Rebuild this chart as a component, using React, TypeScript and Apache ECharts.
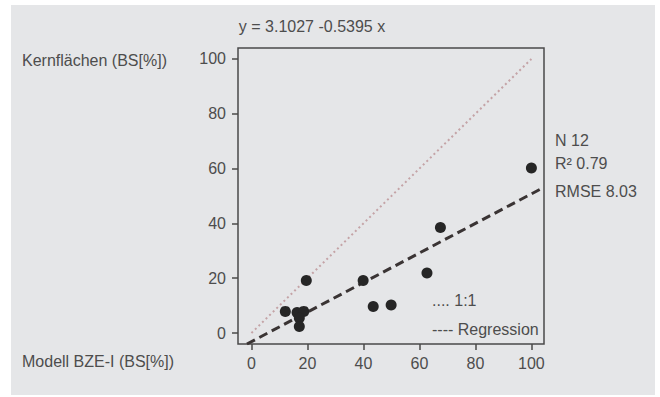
import React, { useEffect, useRef } from "react";
import * as echarts from "echarts";

const xTicks = [0, 20, 40, 60, 80, 100];
const yTicks = [0, 20, 40, 60, 80, 100];
const points: [number, number][] = [
  [12.1, 7.9],
  [16.3, 7.5],
  [18.7, 7.9],
  [17.1, 5.5],
  [17.1, 2.4],
  [19.6, 19.2],
  [39.9, 19.2],
  [43.5, 9.7],
  [49.9, 10.2],
  [62.7, 21.9],
  [67.5, 38.5],
  [100, 60.2],
];
const oneToOneLine: [number, number][] = [
  [0, 0],
  [100, 100],
];
const regressionLine: [number, number][] = [
  [-1.6, -4],
  [104.5, 53.2],
];
const titleText = "y = 3.1027 -0.5395 x";
const yAxisTitle = "Kernflächen (BS[%])";
const xAxisTitle = "Modell BZE-I (BS[%])";
const statsLines = ["N 12", "R² 0.79", "RMSE 8.03"];
const legendDotted = ".... 1:1";
const legendDashed = "---- Regression";

const FONT = "'Liberation Sans', Arial, Helvetica, sans-serif";
const TXT = "#4d4d4d";

export default function App() {
  const ref = useRef<HTMLDivElement>(null);
  useEffect(() => {
    if (!ref.current) return;
    const chart = echarts.init(ref.current, undefined, { renderer: "svg" });
    const textStyle = (text: string) => ({
      text,
      fill: TXT,
      font: `16px ${FONT}`,
    });
    chart.setOption({
      animation: false,
      backgroundColor: "#ffffff",
      textStyle: { fontFamily: FONT },
      graphic: [
        {
          type: "rect",
          z: -10,
          shape: { x: 11, y: 5, width: 644, height: 390 },
          style: { fill: "#e5e6e8" },
          silent: true,
        },
        {
          type: "text",
          x: 312,
          y: 26,
          style: { ...textStyle(titleText), align: "center", verticalAlign: "middle" },
        },
        {
          type: "text",
          x: 22,
          y: 60,
          style: { ...textStyle(yAxisTitle), verticalAlign: "middle" },
        },
        {
          type: "text",
          x: 22,
          y: 361,
          style: { ...textStyle(xAxisTitle), verticalAlign: "middle" },
        },
        {
          type: "text",
          x: 555,
          y: 140,
          style: { ...textStyle(statsLines[0]), verticalAlign: "middle" },
        },
        {
          type: "text",
          x: 555,
          y: 163,
          style: { ...textStyle(statsLines[1]), verticalAlign: "middle" },
        },
        {
          type: "text",
          x: 555,
          y: 191,
          style: { ...textStyle(statsLines[2]), verticalAlign: "middle" },
        },
        {
          type: "text",
          x: 432,
          y: 300,
          z: 20,
          style: { ...textStyle(legendDotted), verticalAlign: "middle" },
        },
        {
          type: "text",
          x: 432,
          y: 329,
          z: 20,
          style: { ...textStyle(legendDashed), verticalAlign: "middle" },
        },
      ],
      grid: {
        left: 238,
        right: 116,
        top: 48,
        bottom: 53,
        show: true,
        borderColor: "#4a4a4a",
        borderWidth: 1.5,
        backgroundColor: "transparent",
      },
      xAxis: {
        type: "value",
        min: -4.8,
        max: 104.5,
        axisLine: { show: false, onZero: false },
        axisTick: {
          show: true,
          inside: false,
          length: 6,
          lineStyle: { color: "#4a4a4a", width: 1.5 },
          customValues: xTicks,
        },
        axisLabel: {
          margin: 11,
          color: TXT,
          fontSize: 16,
          fontFamily: FONT,
          customValues: xTicks,
        },
        splitLine: { show: false },
      },
      yAxis: {
        type: "value",
        min: -4,
        max: 104,
        axisLine: { show: false, onZero: false },
        axisTick: {
          show: true,
          inside: false,
          length: 6,
          lineStyle: { color: "#4a4a4a", width: 1.5 },
          customValues: yTicks,
        },
        axisLabel: {
          margin: 12,
          color: TXT,
          fontSize: 16,
          fontFamily: FONT,
          customValues: yTicks,
        },
        splitLine: { show: false },
      },
      series: [
        {
          type: "line",
          data: oneToOneLine,
          symbol: "none",
          lineStyle: { color: "#c4a3a6", width: 2, type: [2, 3] },
          z: 2,
        },
        {
          type: "line",
          data: regressionLine,
          symbol: "none",
          lineStyle: { color: "#3a3434", width: 3, type: [9, 5] },
          z: 3,
        },
        {
          type: "scatter",
          data: points,
          symbol: "circle",
          symbolSize: 11,
          itemStyle: { color: "#262626", opacity: 1 },
          z: 4,
        },
      ],
    });
    return () => chart.dispose();
  }, []);
  return (
    <div
      ref={ref}
      style={{ position: "fixed", left: 0, top: 0, width: 660, height: 397 }}
    />
  );
}
